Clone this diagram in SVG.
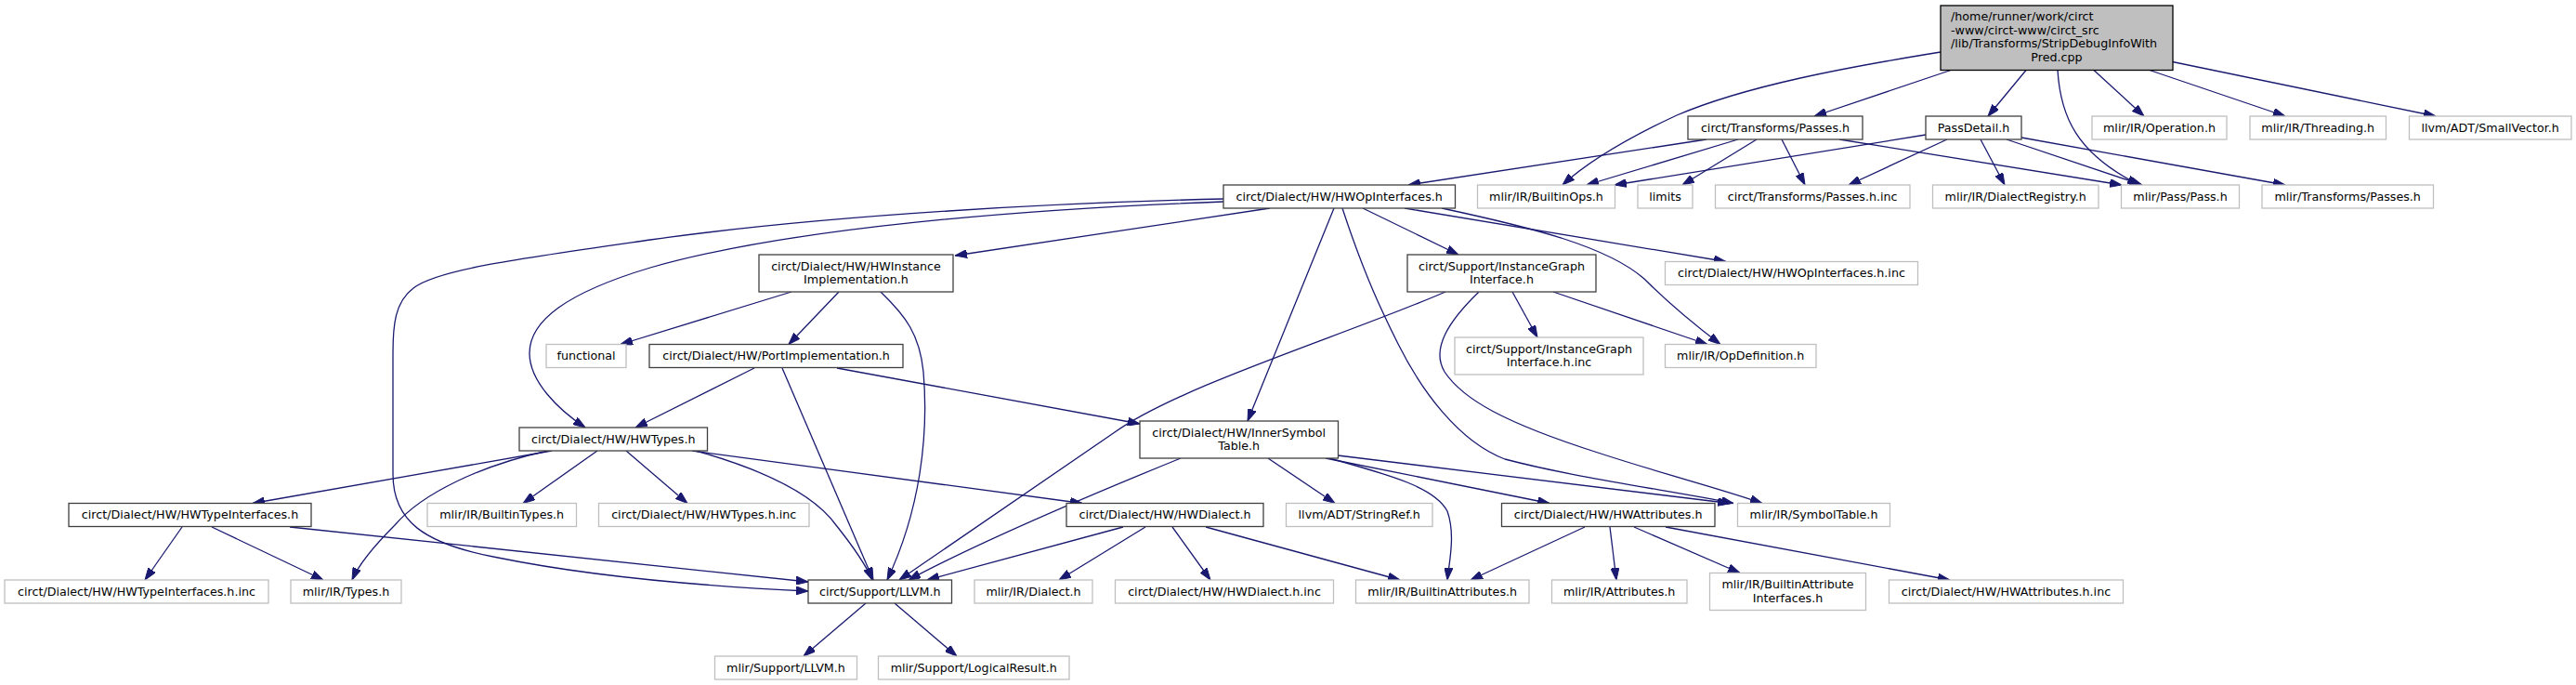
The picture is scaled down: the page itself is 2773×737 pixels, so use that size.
<svg xmlns="http://www.w3.org/2000/svg" width="2773" height="737" viewBox="0 0 2773 737">
<style>
rect{stroke-width:1.3}
.root{fill:#bfbfbf;stroke:#000}
.doc{fill:#fff;stroke:#404040}
.ext{fill:#fff;stroke:#bfbfbf}
text{font-family:"DejaVu Sans","Liberation Sans",sans-serif;font-size:12.7px;fill:#000;text-anchor:middle}
text.l{text-anchor:start}
#edges path{fill:none;stroke:#191970;stroke-width:1.3;marker-end:url(#ah)}
</style>
<defs>
<marker id="ah" markerUnits="userSpaceOnUse" markerWidth="13" markerHeight="9" refX="13" refY="4.5" orient="auto">
<path d="M0,0 L13,4.5 L0,9 Z" fill="#191970" stroke="#191970" stroke-width="1"/>
</marker>
</defs>
<rect width="2773" height="737" fill="#fff"/>
<g id="edges">
<path d="M2100,75.5 L1953,125"/>
<path d="M2089,56 C1990,72 1880,92 1805,124 C1745,152 1705,178 1682,199"/>
<path d="M2181,75.5 L2140,125"/>
<path d="M2215,75.5 C2218,125 2235,165 2303,199"/>
<path d="M2254,75.5 L2308,125"/>
<path d="M2314,75.5 L2460,125"/>
<path d="M2338.6,66.5 L2622,125"/>
<path d="M1837,150 L1516,199"/>
<path d="M1871,150 L1708,199"/>
<path d="M1891,150 L1811,199"/>
<path d="M1918,150 L1943,199"/>
<path d="M1980,150 L2284,199"/>
<path d="M2073,145 L1738,199"/>
<path d="M2096,150 L1990,199"/>
<path d="M2132,150 L2158,199"/>
<path d="M2160,150 L2306,199"/>
<path d="M2176,148 L2460,199"/>
<path d="M1367,224 L1028,275"/>
<path d="M1317,214 C1150,218 900,230 700,258 C560,278 470,290 445,310 C425,325 423,350 423,380 L423,510 C423,560 455,585 536,600 C600,613 700,628 870,636"/>
<path d="M1317,217 C1100,225 850,245 700,288 C610,315 570,345 570,380 C570,410 600,440 630,460"/>
<path d="M1467,224 L1570,274"/>
<path d="M1512,224 L1858,281.5"/>
<path d="M1552,224 C1650,245 1730,265 1770,300 C1800,330 1825,350 1852,370.5"/>
<path d="M1436,224 L1343,453"/>
<path d="M1445,224 C1470,300 1490,340 1505,370 C1530,420 1570,475 1620,494 C1700,515 1800,528 1866,541.5"/>
<path d="M852,314 L668,370.5"/>
<path d="M903,314 L849,370.5"/>
<path d="M948,314 C975,340 990,360 994,400 C1000,470 990,550 955,624"/>
<path d="M1556,314 C1450,360 1270,415 1200,465 C1120,520 1040,575 968,624"/>
<path d="M1628,314 L1655,363"/>
<path d="M1672,314 L1838,370.5"/>
<path d="M1592,314 C1560,345 1540,375 1555,400 C1575,430 1620,455 1720,487 C1790,510 1850,525 1897,541.5"/>
<path d="M812,396 L684,460"/>
<path d="M842,396 L940,624"/>
<path d="M901,396 L1227,456"/>
<path d="M594,485 L272,541.5"/>
<path d="M590,485 C520,500 455,530 425,565 C400,590 385,610 379,624"/>
<path d="M643,485 L563,541.5"/>
<path d="M674,485 L740,541.5"/>
<path d="M749,485 C820,505 875,530 900,565 C920,590 933,610 939,624"/>
<path d="M745,485 L1165,541.5"/>
<path d="M196,567 L156,624"/>
<path d="M228,567 L348,624"/>
<path d="M312,567 L870,626"/>
<path d="M1271,493 C1180,530 1060,580 978,624"/>
<path d="M1365,493 L1437,541.5"/>
<path d="M1427,493 L1668,541.5"/>
<path d="M1440,490 L1862,541.5"/>
<path d="M1431,493 C1500,512 1545,525 1558,550 C1567,575 1560,605 1558,624"/>
<path d="M1209,567 L998,624"/>
<path d="M1233,567 L1140,624"/>
<path d="M1262,567 L1303,624"/>
<path d="M1298,567 L1507,624"/>
<path d="M1706,567 L1583,624"/>
<path d="M1733,567 L1740,624"/>
<path d="M1759,567 L1873,616.5"/>
<path d="M1793,567 L2099,624"/>
<path d="M932,649 L865,706"/>
<path d="M963,649 L1030,706"/>
</g>
<g id="main"><rect class="root" x="2089" y="6" width="250" height="69.5"/><text class="l" x="2100" y="22">/home/runner/work/circt</text><text class="l" x="2100" y="36.5">-www/circt-www/circt_src</text><text class="l" x="2100" y="51">/lib/Transforms/StripDebugInfoWith</text><text x="2214" y="65.5">Pred.cpp</text></g>
<g id="n_passes"><rect class="doc" x="1817" y="125" width="188" height="25"/><text x="1911" y="141.8">circt/Transforms/Passes.h</text></g>
<g id="n_passdetail"><rect class="doc" x="2073" y="125" width="103" height="25"/><text x="2124.5" y="141.8">PassDetail.h</text></g>
<g id="n_operation"><rect class="ext" x="2252" y="125" width="145" height="25"/><text x="2324.5" y="141.8">mlir/IR/Operation.h</text></g>
<g id="n_threading"><rect class="ext" x="2422" y="125" width="146.5" height="25"/><text x="2495.2" y="141.8">mlir/IR/Threading.h</text></g>
<g id="n_smallvec"><rect class="ext" x="2593.5" y="125" width="174.5" height="25"/><text x="2680.7" y="141.8">llvm/ADT/SmallVector.h</text></g>
<g id="n_hwopif"><rect class="doc" x="1317" y="199" width="249.5" height="25"/><text x="1441.7" y="215.8">circt/Dialect/HW/HWOpInterfaces.h</text></g>
<g id="n_builtinops"><rect class="ext" x="1590.5" y="199" width="148" height="25"/><text x="1664.5" y="215.8">mlir/IR/BuiltinOps.h</text></g>
<g id="n_limits"><rect class="ext" x="1763" y="199" width="59" height="25"/><text x="1792.5" y="215.8">limits</text></g>
<g id="n_passesinc"><rect class="ext" x="1846.5" y="199" width="209.5" height="25"/><text x="1951.2" y="215.8">circt/Transforms/Passes.h.inc</text></g>
<g id="n_dialectreg"><rect class="ext" x="2080.5" y="199" width="178.5" height="25"/><text x="2169.7" y="215.8">mlir/IR/DialectRegistry.h</text></g>
<g id="n_pass"><rect class="ext" x="2283.5" y="199" width="127" height="25"/><text x="2347" y="215.8">mlir/Pass/Pass.h</text></g>
<g id="n_mlirpasses"><rect class="ext" x="2435" y="199" width="184.5" height="25"/><text x="2527.2" y="215.8">mlir/Transforms/Passes.h</text></g>
<g id="n_hwinst"><rect class="doc" x="817" y="274" width="209" height="40"/><text x="921.5" y="290.5">circt/Dialect/HW/HWInstance</text><text x="921.5" y="305">Implementation.h</text></g>
<g id="n_igi"><rect class="doc" x="1515" y="274" width="203" height="40"/><text x="1616.5" y="290.5">circt/Support/InstanceGraph</text><text x="1616.5" y="305">Interface.h</text></g>
<g id="n_hwopifinc"><rect class="ext" x="1792.5" y="281.5" width="272" height="25"/><text x="1928.5" y="298.3">circt/Dialect/HW/HWOpInterfaces.h.inc</text></g>
<g id="n_functional"><rect class="ext" x="588" y="370.5" width="86" height="25"/><text x="631" y="387.3">functional</text></g>
<g id="n_portimpl"><rect class="doc" x="699" y="370.5" width="273" height="25"/><text x="835.5" y="387.3">circt/Dialect/HW/PortImplementation.h</text></g>
<g id="n_igiinc"><rect class="ext" x="1566" y="363" width="203" height="40"/><text x="1667.5" y="379.5">circt/Support/InstanceGraph</text><text x="1667.5" y="394">Interface.h.inc</text></g>
<g id="n_opdef"><rect class="ext" x="1792.5" y="370.5" width="162.5" height="25"/><text x="1873.7" y="387.3">mlir/IR/OpDefinition.h</text></g>
<g id="n_hwtypes"><rect class="doc" x="559" y="460" width="202.5" height="25"/><text x="660.2" y="476.8">circt/Dialect/HW/HWTypes.h</text></g>
<g id="n_innersym"><rect class="doc" x="1227" y="453" width="213.5" height="40"/><text x="1333.7" y="469.5">circt/Dialect/HW/InnerSymbol</text><text x="1333.7" y="484">Table.h</text></g>
<g id="n_hwtypeif"><rect class="doc" x="74" y="541.5" width="261" height="25"/><text x="204.5" y="558.3">circt/Dialect/HW/HWTypeInterfaces.h</text></g>
<g id="n_builtintypes"><rect class="ext" x="460" y="541.5" width="160.5" height="25"/><text x="540.2" y="558.3">mlir/IR/BuiltinTypes.h</text></g>
<g id="n_hwtypesinc"><rect class="ext" x="644.5" y="541.5" width="226.5" height="25"/><text x="757.7" y="558.3">circt/Dialect/HW/HWTypes.h.inc</text></g>
<g id="n_hwdialect"><rect class="doc" x="1148" y="541.5" width="212" height="25"/><text x="1254" y="558.3">circt/Dialect/HW/HWDialect.h</text></g>
<g id="n_stringref"><rect class="ext" x="1384.5" y="541.5" width="157.5" height="25"/><text x="1463.2" y="558.3">llvm/ADT/StringRef.h</text></g>
<g id="n_hwattr"><rect class="doc" x="1616.5" y="541.5" width="229.5" height="25"/><text x="1731.2" y="558.3">circt/Dialect/HW/HWAttributes.h</text></g>
<g id="n_symtab"><rect class="ext" x="1870.5" y="541.5" width="164" height="25"/><text x="1952.5" y="558.3">mlir/IR/SymbolTable.h</text></g>
<g id="n_hwtypeifinc"><rect class="ext" x="5" y="624" width="284" height="25"/><text x="147" y="640.8">circt/Dialect/HW/HWTypeInterfaces.h.inc</text></g>
<g id="n_types"><rect class="ext" x="313" y="624" width="119" height="25"/><text x="372.5" y="640.8">mlir/IR/Types.h</text></g>
<g id="n_llvm"><rect class="doc" x="870" y="624" width="154.5" height="25"/><text x="947.2" y="640.8">circt/Support/LLVM.h</text></g>
<g id="n_dialect"><rect class="ext" x="1049" y="624" width="127" height="25"/><text x="1112.5" y="640.8">mlir/IR/Dialect.h</text></g>
<g id="n_hwdialectinc"><rect class="ext" x="1200.5" y="624" width="235" height="25"/><text x="1318" y="640.8">circt/Dialect/HW/HWDialect.h.inc</text></g>
<g id="n_builtinattr"><rect class="ext" x="1459.5" y="624" width="186.5" height="25"/><text x="1552.7" y="640.8">mlir/IR/BuiltinAttributes.h</text></g>
<g id="n_attributes"><rect class="ext" x="1670.5" y="624" width="145.5" height="25"/><text x="1743.2" y="640.8">mlir/IR/Attributes.h</text></g>
<g id="n_baif"><rect class="ext" x="1840.5" y="616.5" width="168" height="40"/><text x="1924.5" y="633">mlir/IR/BuiltinAttribute</text><text x="1924.5" y="647.5">Interfaces.h</text></g>
<g id="n_hwattrinc"><rect class="ext" x="2033.5" y="624" width="252" height="25"/><text x="2159.5" y="640.8">circt/Dialect/HW/HWAttributes.h.inc</text></g>
<g id="n_mlirllvm"><rect class="ext" x="769.5" y="706" width="153" height="25"/><text x="846" y="722.8">mlir/Support/LLVM.h</text></g>
<g id="n_logical"><rect class="ext" x="945.5" y="706" width="205.5" height="25"/><text x="1048.2" y="722.8">mlir/Support/LogicalResult.h</text></g>
</svg>
